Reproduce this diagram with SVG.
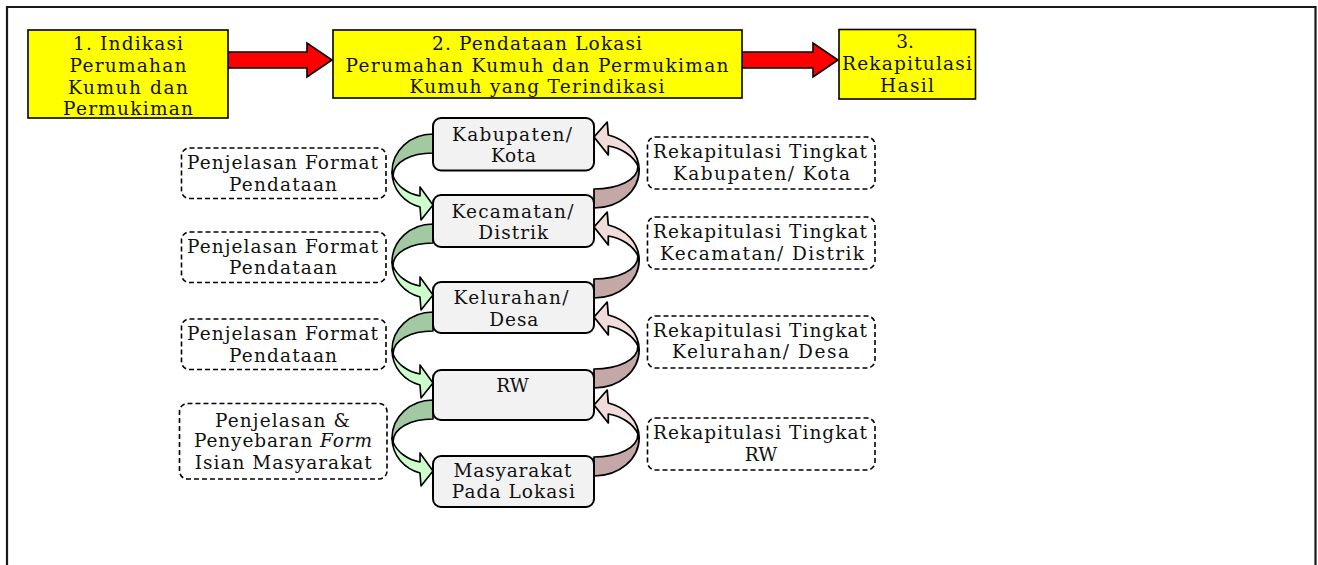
<svg xmlns="http://www.w3.org/2000/svg" xmlns:xlink="http://www.w3.org/1999/xlink" width="1318" height="565" viewBox="0 0 1318 565">
<style>
text{font-family:"DejaVu Serif","Liberation Serif",serif;font-size:18.5px;fill:#111;text-anchor:middle}
.top{fill:#ffff00;stroke:#000;stroke-width:1.6}
.lvl{fill:#f2f2f2;stroke:#000;stroke-width:2}
.dash{fill:#fff;stroke:#000;stroke-width:1.6;stroke-dasharray:5 3}
.red{fill:#ff0000;stroke:#000;stroke-width:1.6;stroke-linejoin:miter}
.cv{stroke:#000;stroke-width:1.6;stroke-linejoin:round}
</style>
<defs>
<path id="dk" d="M0,0 C-23,0 -41,17 -41,38 L-40,42 C-40,28 -22,19 0,19 Z"/>
<path id="lt" d="M-41,38 C-41,56 -28,69 -13,73 L-12,86 L0,71 L-13,53 L-13,62 C-25,60 -36,52 -40,42 Z"/>
</defs>
<path d="M7,570 V7 H1315.5 V570" fill="none" stroke="#1a1a1a" stroke-width="2.2"/>
<g id="connectors">
<path class="red" d="M228,52 H307 V43 L332,60 L307,77 V68 H228 Z"/>
<path class="red" d="M742,52 H813 V43 L838,60 L813,77 V68 H742 Z"/>
<g class="cv">
<use href="#dk" fill="#a2c9a2" transform="translate(433,134)"/>
<use href="#lt" fill="#ccffcc" transform="translate(433,134)"/>
<use href="#dk" fill="#a2c9a2" transform="translate(433,224)"/>
<use href="#lt" fill="#ccffcc" transform="translate(433,224)"/>
<use href="#dk" fill="#a2c9a2" transform="translate(433,312)"/>
<use href="#lt" fill="#ccffcc" transform="translate(433,312)"/>
<use href="#dk" fill="#a2c9a2" transform="translate(433,400)"/>
<use href="#lt" fill="#ccffcc" transform="translate(433,400)"/>
<use href="#dk" fill="#c4a8a8" transform="translate(594,208) scale(-1.1,-1)"/>
<use href="#lt" fill="#f2dcdb" transform="translate(594,208) scale(-1.1,-1)"/>
<use href="#dk" fill="#c4a8a8" transform="translate(594,298) scale(-1.1,-1)"/>
<use href="#lt" fill="#f2dcdb" transform="translate(594,298) scale(-1.1,-1)"/>
<use href="#dk" fill="#c4a8a8" transform="translate(594,388) scale(-1.1,-1)"/>
<use href="#lt" fill="#f2dcdb" transform="translate(594,388) scale(-1.1,-1)"/>
<use href="#dk" fill="#c4a8a8" transform="translate(594,476) scale(-1.1,-1)"/>
<use href="#lt" fill="#f2dcdb" transform="translate(594,476) scale(-1.1,-1)"/>
</g>
</g>
<g id="step1">
<rect class="top" x="28" y="30" width="200" height="88"/>
<text x="128" y="49.5" textLength="110" lengthAdjust="spacing">1. Indikasi</text>
<text x="128" y="71.5" textLength="117" lengthAdjust="spacing">Perumahan</text>
<text x="128" y="93.5" textLength="120" lengthAdjust="spacing">Kumuh dan</text>
<text x="128" y="114.5" textLength="130" lengthAdjust="spacing">Permukiman</text>
</g>
<g id="step2">
<rect class="top" x="333" y="30" width="409" height="68"/>
<text x="537" y="49.5" textLength="210" lengthAdjust="spacing">2. Pendataan Lokasi</text>
<text x="537" y="71.5" textLength="383" lengthAdjust="spacing">Perumahan Kumuh dan Permukiman</text>
<text x="537" y="93" textLength="255" lengthAdjust="spacing">Kumuh yang Terindikasi</text>
</g>
<g id="step3">
<rect class="top" x="839" y="29.5" width="136.5" height="69.5"/>
<text x="905" y="47.5">3.</text>
<text x="907" y="70" textLength="130" lengthAdjust="spacing">Rekapitulasi</text>
<text x="907" y="91.5" textLength="54" lengthAdjust="spacing">Hasil</text>
</g>
<g id="kabupaten">
<rect class="lvl" x="433" y="118" width="161" height="52.5" rx="8"/>
<text x="512" y="140.7" textLength="120" lengthAdjust="spacing">Kabupaten/</text>
<text x="513.5" y="162.3" textLength="45" lengthAdjust="spacing">Kota</text>
</g>
<g id="kecamatan">
<rect class="lvl" x="433" y="195" width="161" height="52" rx="8"/>
<text x="512.5" y="217.5" textLength="122" lengthAdjust="spacing">Kecamatan/</text>
<text x="513.3" y="239" textLength="70" lengthAdjust="spacing">Distrik</text>
</g>
<g id="kelurahan">
<rect class="lvl" x="433" y="282" width="161" height="51" rx="8"/>
<text x="511" y="304" textLength="115" lengthAdjust="spacing">Kelurahan/</text>
<text x="513.8" y="325.5" textLength="49" lengthAdjust="spacing">Desa</text>
</g>
<g id="rw">
<rect class="lvl" x="433" y="370" width="161" height="50" rx="8"/>
<text x="512.5" y="391.7">RW</text>
</g>
<g id="masyarakat">
<rect class="lvl" x="433" y="456" width="161" height="51" rx="8"/>
<text x="512.5" y="476.7" textLength="118" lengthAdjust="spacing">Masyarakat</text>
<text x="513.3" y="498.3" textLength="123" lengthAdjust="spacing">Pada Lokasi</text>
</g>
<g id="penjelasan1">
<rect class="dash" x="181.5" y="148" width="204.5" height="50.5" rx="8"/>
<text x="282.5" y="169.3" textLength="191" lengthAdjust="spacing">Penjelasan Format</text>
<text x="283" y="191" textLength="108" lengthAdjust="spacing">Pendataan</text>
</g>
<g id="penjelasan2">
<rect class="dash" x="181.5" y="232" width="204.5" height="50.5" rx="8"/>
<text x="282.5" y="252.7" textLength="191" lengthAdjust="spacing">Penjelasan Format</text>
<text x="283" y="274.3" textLength="108" lengthAdjust="spacing">Pendataan</text>
</g>
<g id="penjelasan3">
<rect class="dash" x="181.5" y="319" width="204.5" height="50.5" rx="8"/>
<text x="282.5" y="340" textLength="191" lengthAdjust="spacing">Penjelasan Format</text>
<text x="283" y="361.7" textLength="108" lengthAdjust="spacing">Pendataan</text>
</g>
<g id="penjelasan4">
<rect class="dash" x="179.5" y="403.5" width="207.5" height="75.5" rx="8"/>
<text x="282.5" y="426.7" textLength="135" lengthAdjust="spacing">Penjelasan &amp;</text>
<text x="283" y="447.3" textLength="178" lengthAdjust="spacing">Penyebaran <tspan font-style="italic">Form</tspan></text>
<text x="283.3" y="469.3" textLength="177" lengthAdjust="spacing">Isian Masyarakat</text>
</g>
<g id="rekap1">
<rect class="dash" x="647.5" y="137" width="227.5" height="52" rx="8"/>
<text x="760" y="157.7" textLength="214" lengthAdjust="spacing">Rekapitulasi Tingkat</text>
<text x="761.5" y="180" textLength="177" lengthAdjust="spacing">Kabupaten/ Kota</text>
</g>
<g id="rekap2">
<rect class="dash" x="647.5" y="217" width="227.5" height="52" rx="8"/>
<text x="760" y="237.7" textLength="214" lengthAdjust="spacing">Rekapitulasi Tingkat</text>
<text x="762" y="260" textLength="204" lengthAdjust="spacing">Kecamatan/ Distrik</text>
</g>
<g id="rekap3">
<rect class="dash" x="647.5" y="316" width="227.5" height="52" rx="8"/>
<text x="760" y="336.7" textLength="214" lengthAdjust="spacing">Rekapitulasi Tingkat</text>
<text x="760.5" y="358.3" textLength="177" lengthAdjust="spacing">Kelurahan/ Desa</text>
</g>
<g id="rekap4">
<rect class="dash" x="647.5" y="418" width="227.5" height="52" rx="8"/>
<text x="760" y="439.3" textLength="214" lengthAdjust="spacing">Rekapitulasi Tingkat</text>
<text x="761" y="460.7">RW</text>
</g>
</svg>
